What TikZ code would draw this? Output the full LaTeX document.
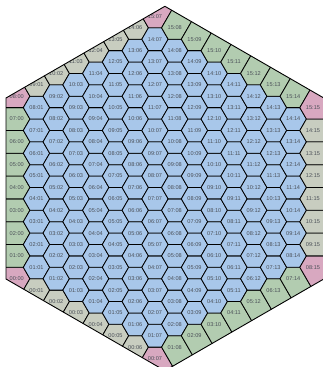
\documentclass[tikz,border=0pt]{standalone}
\usepackage{fontspec}
\setmainfont{Liberation Sans}
\usetikzlibrary{calc}
\definecolor{hexblue}{RGB}{168,199,234}
\definecolor{hexgray}{RGB}{200,205,192}
\definecolor{hexgreen}{RGB}{178,204,176}
\definecolor{hexpink}{RGB}{216,168,192}
\definecolor{labgray}{RGB}{75,80,88}
\newcommand\twod[1]{\ifnum#1<10 0\fi#1}
\begin{document}
\begin{tikzpicture}[x=1pt,y=-1pt,
  cell/.style={draw=black,line width=0.8pt,line join=round},
  lab/.style={font=\fontsize{5.6}{6}\selectfont,text=labgray,inner sep=0pt},
  rim/.style={draw=black,line width=0.9pt,line join=round}]
\useasboundingbox (0,0) rectangle (323,367);
\clip (0,0) rectangle (323,367);
\def\R{13.17}\def\DX{19.75}\def\DY{22.81}\def\Xo{16.75}\def\Yo{278.7}
\coordinate (v1) at (164.9,6.3);
\coordinate (v2) at (323.8,98);
\coordinate (v3) at (323.8,279);
\coordinate (v4) at (164.9,370.7);
\coordinate (v5) at (6,279);
\coordinate (v6) at (6,98);
\begin{scope}
\clip (v1) -- (v2) -- (v3) -- (v4) -- (v5) -- (v6) -- cycle;
\foreach \b in {0,...,15}{
  \pgfmathtruncatemacro\amin{max(0,\b-7)}
  \pgfmathtruncatemacro\amax{min(15,\b+8)}
  \foreach \a in {\amin,...,\amax}{
    \pgfmathsetmacro\cx{\Xo+\DX*\b}
    \pgfmathsetmacro\cy{\Yo-\DY*\a+\DY/2*\b}
    \pgfmathtruncatemacro\dd{\a-\b}
    \pgfmathtruncatemacro\mask{(\b==0)*1+(\dd==8)*2+(\a==15)*4+(\b==15)*8+(\dd==-7)*16+(\a==0)*32}
    \def\hc{hexpink}
    \ifnum\mask=0 \def\hc{hexblue}\fi
    \ifnum\mask=1 \def\hc{hexgreen}\fi
    \ifnum\mask=2 \def\hc{hexgray}\fi
    \ifnum\mask=4 \def\hc{hexgreen}\fi
    \ifnum\mask=8 \def\hc{hexgray}\fi
    \ifnum\mask=16 \def\hc{hexgreen}\fi
    \ifnum\mask=32 \def\hc{hexgray}\fi
    \coordinate (C) at (\cx,\cy);
    \coordinate (L) at (\cx-\R,\cy);
    \coordinate (TL) at (\cx-\R/2,\cy-\DY/2);
    \coordinate (TR) at (\cx+\R/2,\cy-\DY/2);
    \coordinate (Rt) at (\cx+\R,\cy);
    \coordinate (BR) at (\cx+\R/2,\cy+\DY/2);
    \coordinate (BL) at (\cx-\R/2,\cy+\DY/2);
    \ifnum\mask=0 \path[cell,fill=\hc] (L)--(TL)--(TR)--(Rt)--(BR)--(BL)--cycle;\fi
    \ifnum\mask=1 \path[cell,fill=\hc] (TL)--(TR)--(Rt)--(BR)--(BL)--($(BL)+(-40,0)$)--($(TL)+(-40,0)$)--cycle;\fi
    \ifnum\mask=2 \path[cell,fill=\hc] (L)--($(L)+(-20,-34.64)$)--($(TR)+(-20,-34.64)$)--(TR)--(Rt)--(BR)--(BL)--cycle;\fi
    \ifnum\mask=4 \path[cell,fill=\hc] (TL)--($(TL)+(20,-34.64)$)--($(Rt)+(20,-34.64)$)--(Rt)--(BR)--(BL)--(L)--cycle;\fi
    \ifnum\mask=8 \path[cell,fill=\hc] (TL)--(TR)--($(TR)+(40,0)$)--($(BR)+(40,0)$)--(BR)--(BL)--(L)--cycle;\fi
    \ifnum\mask=16 \path[cell,fill=\hc] (L)--(TL)--(TR)--(Rt)--($(Rt)+(20,34.64)$)--($(BL)+(20,34.64)$)--(BL)--cycle;\fi
    \ifnum\mask=32 \path[cell,fill=\hc] (L)--(TL)--(TR)--(Rt)--(BR)--($(BR)+(-20,34.64)$)--($(L)+(-20,34.64)$)--cycle;\fi
    \ifnum\mask=3 \path[cell,fill=\hc] (BL)--($(BL)+(-40,0)$)--($(C)+(-52,-30)$)--($(TR)+(-20,-34.64)$)--(TR)--(Rt)--(BR)--cycle;\fi
    \ifnum\mask=6 \path[cell,fill=\hc] (L)--($(L)+(-20,-34.64)$)--($(C)+(0,-60)$)--($(Rt)+(20,-34.64)$)--(Rt)--(BR)--(BL)--cycle;\fi
    \ifnum\mask=12 \path[cell,fill=\hc] (TL)--($(TL)+(20,-34.64)$)--($(C)+(52,-30)$)--($(BR)+(40,0)$)--(BR)--(BL)--(L)--cycle;\fi
    \ifnum\mask=24 \path[cell,fill=\hc] (TR)--($(TR)+(40,0)$)--($(C)+(52,30)$)--($(BL)+(20,34.64)$)--(BL)--(L)--(TL)--cycle;\fi
    \ifnum\mask=48 \path[cell,fill=\hc] (Rt)--($(Rt)+(20,34.64)$)--($(C)+(0,60)$)--($(L)+(-20,34.64)$)--(L)--(TL)--(TR)--cycle;\fi
    \ifnum\mask=33 \path[cell,fill=\hc] (BR)--($(BR)+(-20,34.64)$)--($(C)+(-52,30)$)--($(TL)+(-40,0)$)--(TL)--(TR)--(Rt)--cycle;\fi
    \node[lab] (h-\a-\b) at (C) {\twod{\a}:\twod{\b}};
  }
}
\end{scope}
\draw[rim] (v1) -- (v2) -- (v3) -- (v4) -- (v5) -- (v6) -- cycle;
\end{tikzpicture}
\end{document}
